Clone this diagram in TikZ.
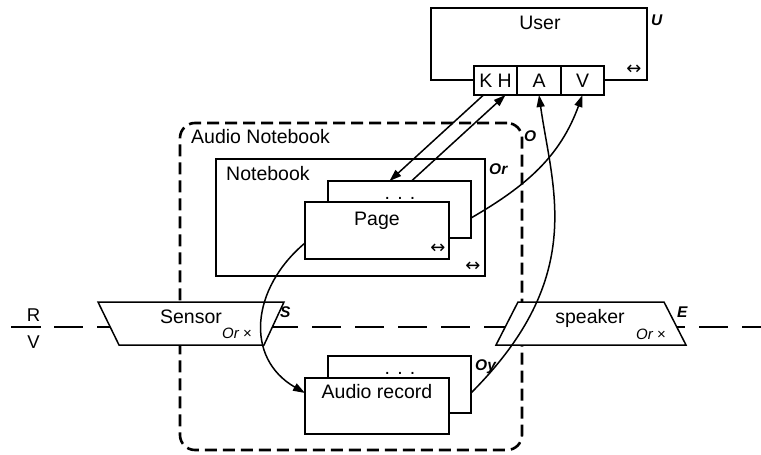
\documentclass[tikz,border=0pt]{standalone}
\usepackage{fontspec}
\setmainfont{Liberation Sans}
\newfontfamily\arrfont{DejaVu Sans}
\usetikzlibrary{arrows.meta,calc}
\tikzset{
  box/.style={draw, line width=1.5pt, fill=white, inner sep=0pt, outer sep=0pt},
  txt/.style={font=\fontsize{19.5}{23}\selectfont, inner sep=0pt, anchor=base},
  lbl/.style={font=\fontsize{15.5}{18}\selectfont\bfseries\itshape, inner sep=0pt, anchor=base west},
  sml/.style={font=\fontsize{15}{18}\selectfont, inner sep=0pt, anchor=base west},
  arr/.style={font=\arrfont\fontsize{18}{20}\selectfont, inner sep=0pt},
  conn/.style={line width=1.5pt, -{Triangle[length=12pt,width=8pt]}},
  hdash/.style={line width=2.8pt, dash pattern=on 29pt off 14pt},
  grpdash/.style={draw, line width=2.6pt, dash pattern=on 12pt off 6pt, rounded corners=15pt, inner sep=0pt},
}
\begin{document}
\begin{tikzpicture}[x=1pt,y=-1pt]
\useasboundingbox (0,0) rectangle (761,455);

% R / V and reality line
\node[txt, font=\fontsize{18.5}{20}\selectfont] (r) at (33.5,321) {R};
\node[txt, font=\fontsize{18.5}{20}\selectfont] (v) at (33.5,348) {V};
\coordinate (barl) at (11,327);
\coordinate (barr) at (41,327);
\draw[line width=2.8pt] (barl) -- (barr);
\coordinate (hl) at (54,327);
\coordinate (hr) at (761,327);
\draw[hdash] (hl) -- (hr);

% Audio Notebook group
\node[grpdash, minimum width=342pt, minimum height=327pt] (an) at (351,286.5) {};
\node[txt, anchor=base west] (antxt) at (191,143) {Audio Notebook};
\node[lbl] (olbl) at (524,141) {O};

% Sensor
\draw[box] (98,302) coordinate (s1) -- (284,302) coordinate (s2) -- (264,345) coordinate (s3) -- (119,345) coordinate (s4) -- cycle;
\node[txt] (sensor) at (191,323) {Sensor};
\node[sml] (sor) at (222,338) {\itshape Or \upshape×};
\node[lbl] (slbl) at (280,317) {S};

% Speaker
\draw[box] (518,302) coordinate (e1) -- (664,302) coordinate (e2) -- (686,345) coordinate (e3) -- (496,345) coordinate (e4) -- cycle;
\node[txt] (speaker) at (590,323) {speaker};
\node[sml] (eor) at (636,339) {\itshape Or \upshape×};
\node[lbl] (elbl) at (677,317) {E};

% User
\node[box, minimum width=216pt, minimum height=72pt] (user) at (539,44) {};
\node[txt] (usertxt) at (540,30) {User};
\node[lbl] (ulbl) at (651,25) {U};
\node[arr] (uarr) at (634,70) {↔};
\node[box, minimum width=43pt, minimum height=29pt] (kh) at (495.5,80.5) {};
\node[box, minimum width=44pt, minimum height=29pt] (a) at (539,80.5) {};
\node[box, minimum width=43pt, minimum height=29pt] (vp) at (582.5,80.5) {};
\node[txt] (khtxt) at (495.5,87.5) {K H};
\node[txt] (atxt) at (539,87.5) {A};
\node[txt] (vtxt) at (582.5,87.5) {V};

% Notebook
\node[box, minimum width=269pt, minimum height=117pt] (nb) at (350.5,217.5) {};
\node[txt, anchor=base west] (nbtxt) at (226,180) {Notebook};
\node[lbl] (orlbl) at (489,174) {Or};
\node[arr] (nbarr) at (473,267) {↔};
\node[box, minimum width=143pt, minimum height=57pt] (back) at (399.5,209.5) {};
\node[txt] (backdots) at (400,199) {. . .};
\node[box, minimum width=144pt, minimum height=57pt] (page) at (377,230.5) {};
\node[txt] (pagetxt) at (377,225) {Page};
\node[arr] (pagearr) at (438,249) {↔};

% Audio record
\node[box, minimum width=143pt, minimum height=57pt] (aback) at (399.5,384.5) {};
\node[txt] (abackdots) at (400,374) {. . .};
\node[box, minimum width=144pt, minimum height=56pt] (arec) at (377,406) {};
\node[txt] (arectxt) at (377,398) {Audio record};
\node[lbl] (oylbl) at (475,370) {Oy};

% connectors
\draw[conn] ([xshift=-12pt]kh.south) -- ([xshift=-10pt]back.north);
\draw[conn] ([xshift=12pt]back.north) -- ([xshift=10pt]kh.south);
\draw[conn] ([yshift=-8.5pt]back.east) to[out=30, in=-110] (vp.south);
\draw[conn] ([yshift=-12.5pt]page.west) to[out=-140, in=150, looseness=1.2] ([yshift=13pt]arec.west);
\draw[conn] ([yshift=-8.5pt]aback.east) .. controls +(45:165pt) and +(-82:95pt) .. (a.south);
\end{tikzpicture}
\end{document}
